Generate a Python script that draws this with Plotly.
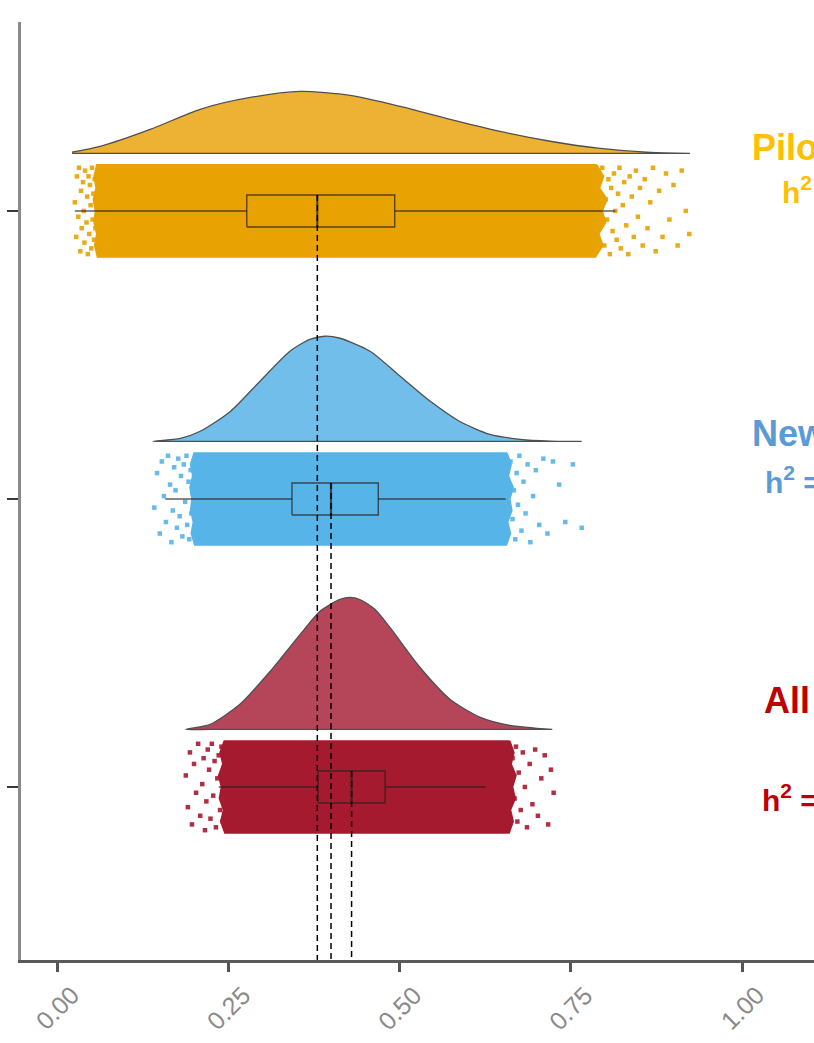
import plotly.graph_objects as go

# ---- groups (bottom to top on the category axis) ----
groups = ["All", "New", "Pilot"]
positions = [1, 2, 3]

# colours
point_colors = {"Pilot": "#E8A202", "New": "#56B4E9", "All": "#A61A30"}
cloud_colors = {"Pilot": "#EDB233", "New": "#72BEEA", "All": "#B5465A"}
label_colors = {"Pilot": "#FFC000", "New": "#5B9BD5", "All": "#C00000"}

# ---- box statistics (h2 estimates) ----
q1 = {"Pilot": 0.277, "New": 0.343, "All": 0.381}
median = {"Pilot": 0.38, "New": 0.40, "All": 0.43}
q3 = {"Pilot": 0.493, "New": 0.469, "All": 0.479}
lower_fence = {"Pilot": 0.026, "New": 0.158, "All": 0.236}
upper_fence = {"Pilot": 0.815, "New": 0.655, "All": 0.626}

# ---- density (cloud) profiles: x and curve height ----
pilot_dens_x = [0.022, 0.063, 0.136, 0.209, 0.282, 0.355, 0.428, 0.501,
                0.574, 0.647, 0.720, 0.793, 0.866, 0.924]
pilot_dens_h = [0.004, 0.024, 0.083, 0.153, 0.194, 0.215, 0.201, 0.163,
                0.118, 0.076, 0.042, 0.017, 0.003, 0.0]

new_dens_x = [0.140, 0.180, 0.209, 0.253, 0.296, 0.340, 0.369, 0.391, 0.413,
              0.457, 0.501, 0.545, 0.588, 0.632, 0.676, 0.720, 0.766]
new_dens_h = [0.0, 0.010, 0.035, 0.104, 0.208, 0.313, 0.354, 0.365, 0.358,
              0.313, 0.226, 0.139, 0.069, 0.024, 0.007, 0.001, 0.0]

all_dens_x = [0.188, 0.223, 0.267, 0.311, 0.355, 0.384, 0.413, 0.428, 0.442,
              0.464, 0.486, 0.530, 0.574, 0.618, 0.661, 0.723]
all_dens_h = [0.0, 0.017, 0.087, 0.201, 0.330, 0.410, 0.451, 0.458, 0.451,
              0.417, 0.354, 0.215, 0.104, 0.042, 0.014, 0.0]

density = {
    "Pilot": (pilot_dens_x, pilot_dens_h),
    "New": (new_dens_x, new_dens_h),
    "All": (all_dens_x, all_dens_h),
}

# ---- rain: dense core outline (left / right edge at each jitter level) ----
core_levels = [0.16, 0.12, 0.08, 0.04, 0.0, -0.04, -0.08, -0.12, -0.16]
core_left = {
    "Pilot": [0.058, 0.054, 0.057, 0.053, 0.056, 0.054, 0.058, 0.055, 0.059],
    "New": [0.200, 0.195, 0.198, 0.194, 0.197, 0.195, 0.199, 0.196, 0.201],
    "All": [0.244, 0.238, 0.242, 0.236, 0.240, 0.237, 0.243, 0.239, 0.245],
}
core_right = {
    "Pilot": [0.788, 0.798, 0.792, 0.803, 0.796, 0.801, 0.791, 0.797, 0.786],
    "New": [0.657, 0.663, 0.659, 0.666, 0.661, 0.664, 0.658, 0.662, 0.656],
    "All": [0.661, 0.667, 0.663, 0.670, 0.665, 0.669, 0.662, 0.666, 0.660],
}

# ---- rain: scattered points in the tails (value, jitter) ----
pilot_tail_x = [0.026, 0.028, 0.029, 0.031, 0.032, 0.034, 0.035, 0.036, 0.038,
                0.039, 0.040, 0.041, 0.043, 0.044, 0.045, 0.046, 0.047, 0.048,
                0.049, 0.050, 0.051, 0.052, 0.053, 0.054, 0.055, 0.056,
                0.796, 0.799, 0.801, 0.803, 0.805, 0.807, 0.809, 0.811, 0.813,
                0.815, 0.817, 0.819, 0.821, 0.823, 0.826, 0.828, 0.831, 0.834,
                0.836, 0.839, 0.842, 0.845, 0.848, 0.851, 0.855, 0.858, 0.862,
                0.866, 0.870, 0.874, 0.879, 0.884, 0.889, 0.894, 0.900, 0.906,
                0.912, 0.918, 0.923]
pilot_tail_j = [0.03, -0.09, 0.12, -0.02, 0.15, -0.14, 0.07, -0.06, 0.10,
                0.00, -0.11, 0.14, -0.04, 0.05, -0.15, 0.12, -0.08, 0.09,
                0.02, -0.13, 0.15, -0.03, 0.06, -0.10, 0.11, -0.06,
                0.15, -0.12, 0.04, -0.03, 0.11, -0.15, 0.08, -0.07, 0.13,
                0.00, -0.10, 0.06, 0.15, -0.13, 0.02, 0.10, -0.05, -0.15,
                0.12, 0.05, -0.09, 0.14, -0.02, 0.08, -0.12, 0.11, -0.06,
                0.03, 0.15, -0.14, 0.07, -0.09, 0.13, -0.03, 0.09, -0.12,
                0.14, 0.00, -0.08]

new_tail_x = [0.142, 0.146, 0.150, 0.153, 0.156, 0.159, 0.162, 0.165, 0.167,
              0.169, 0.171, 0.173, 0.175, 0.177, 0.179, 0.181, 0.183, 0.185,
              0.187, 0.189, 0.190, 0.192, 0.193, 0.195, 0.196, 0.198,
              0.662, 0.665, 0.667, 0.669, 0.671, 0.673, 0.675, 0.678, 0.681,
              0.684, 0.687, 0.691, 0.695, 0.699, 0.704, 0.710, 0.716, 0.724,
              0.733, 0.742, 0.753, 0.766]
new_tail_j = [-0.03, 0.09, -0.12, 0.13, 0.01, -0.08, 0.15, 0.05, -0.15,
              -0.04, 0.11, 0.03, -0.10, 0.14, -0.06, 0.08, -0.13, 0.12,
              -0.01, 0.15, -0.09, 0.06, -0.14, 0.10, -0.05, 0.02,
              0.13, -0.07, 0.03, -0.14, 0.09, -0.02, 0.15, -0.11, 0.06,
              -0.05, 0.12, -0.15, 0.01, 0.10, -0.09, 0.14, -0.12, 0.13,
              0.05, -0.08, 0.12, -0.10]

all_tail_x = [0.188, 0.191, 0.194, 0.197, 0.200, 0.203, 0.206, 0.209, 0.212,
              0.214, 0.216, 0.218, 0.220, 0.222, 0.224, 0.226, 0.228, 0.230,
              0.232, 0.234, 0.236, 0.238, 0.240, 0.242,
              0.665, 0.668, 0.670, 0.672, 0.674, 0.677, 0.680, 0.683, 0.686,
              0.690, 0.694, 0.698, 0.702, 0.707, 0.712, 0.717, 0.721, 0.725]
all_tail_j = [0.04, -0.07, 0.12, -0.13, 0.08, -0.02, 0.15, -0.10, 0.01,
              0.10, -0.15, -0.05, 0.13, 0.06, -0.11, 0.15, -0.03, 0.09,
              -0.14, 0.03, 0.11, -0.08, 0.14, -0.12,
              0.10, -0.04, 0.14, -0.12, 0.05, -0.08, 0.12, 0.00, -0.14,
              0.08, -0.06, 0.13, -0.10, 0.03, 0.11, -0.13, 0.06, -0.02]

tails = {
    "Pilot": (pilot_tail_x, pilot_tail_j),
    "New": (new_tail_x, new_tail_j),
    "All": (all_tail_x, all_tail_j),
}

# ---- x axis ticks ----
x_tick_vals = [0.0, 0.25, 0.5, 0.75, 1.0]
x_tick_text = ["0.00", "0.25", "0.50", "0.75", "1.00"]

# ---- right-hand labels: positions (y in data, x in paper units) ----
label_y_name = {"Pilot": 3.222, "New": 2.229, "All": 1.302}
label_y_h2 = {"Pilot": 3.073, "New": 2.066, "All": 0.962}
label_x_name = {"Pilot": 0.919, "New": 0.919, "All": 0.934}
label_x_h2 = {"Pilot": 0.957, "New": 0.936, "All": 0.932}

CLOUD_OFFSET = 0.20   # baseline of the half-violin above the category
BOX_WIDTH = 0.111
Y_MIN, Y_MAX = 0.3993, 3.656
X_MIN, X_MAX = -0.0526, 1.1051
BOX_LINE = "rgba(40,30,25,0.72)"

fig = go.Figure()

# half-violin clouds
for g, pos in zip(groups, positions):
    dx, dh = density[g]
    base = pos + CLOUD_OFFSET
    fig.add_trace(go.Scatter(
        x=dx + dx[::-1],
        y=[base + h for h in dh] + [base] * len(dx),
        fill="toself", fillcolor=cloud_colors[g],
        mode="lines", line=dict(color="#4f4f4f", width=1.3, shape="spline",
                                smoothing=0.7),
        hoverinfo="skip", showlegend=False,
    ))

# rain: dense core plus scattered tails
for g, pos in zip(groups, positions):
    lx = core_left[g]
    rx = core_right[g]
    ys = [pos + lv for lv in core_levels]
    fig.add_trace(go.Scatter(
        x=rx + lx[::-1] + [rx[0]], y=ys + ys[::-1] + [ys[0]],
        fill="toself", fillcolor=point_colors[g],
        mode="lines", line=dict(color=point_colors[g], width=1.5),
        hoverinfo="skip", showlegend=False,
    ))
    tx, tj = tails[g]
    fig.add_trace(go.Scatter(
        x=tx, y=[pos + j for j in tj], mode="markers",
        marker=dict(color=point_colors[g], size=4.5, opacity=0.9,
                    symbol="square"),
        hoverinfo="skip", showlegend=False,
    ))

# boxplots drawn as outlines on top of the rain
for g, pos in zip(groups, positions):
    lo, hi = pos - BOX_WIDTH / 2, pos + BOX_WIDTH / 2
    fig.add_trace(go.Scatter(
        x=[q1[g], q3[g], q3[g], q1[g], q1[g]], y=[lo, lo, hi, hi, lo],
        mode="lines", line=dict(color=BOX_LINE, width=1.4),
        hoverinfo="skip", showlegend=False,
    ))
    fig.add_trace(go.Scatter(
        x=[lower_fence[g], q1[g], None, q3[g], upper_fence[g]],
        y=[pos, pos, None, pos, pos],
        mode="lines", line=dict(color=BOX_LINE, width=1.6),
        hoverinfo="skip", showlegend=False,
    ))
    fig.add_trace(go.Scatter(
        x=[median[g], median[g]], y=[lo, hi],
        mode="lines", line=dict(color=BOX_LINE, width=2.2),
        hoverinfo="skip", showlegend=False,
    ))

# dashed median guides down to the x axis
for g, pos in zip(groups, positions):
    fig.add_trace(go.Scatter(
        x=[median[g], median[g]], y=[pos + BOX_WIDTH / 2, Y_MIN],
        mode="lines", line=dict(color="black", width=1.5, dash="6px,4px"),
        hoverinfo="skip", showlegend=False,
    ))

# group labels with heritability
for g in groups:
    fig.add_annotation(
        x=label_x_name[g], y=label_y_name[g], xref="paper", yref="y",
        text=f"<b>{g}</b>", showarrow=False, xanchor="left", yanchor="middle",
        font=dict(family="Liberation Sans, Arial", size=36, color=label_colors[g]),
    )
    fig.add_annotation(
        x=label_x_h2[g], y=label_y_h2[g], xref="paper", yref="y",
        text=f"<b>h<sup>2</sup> = {median[g]:.2f}</b>", showarrow=False,
        xanchor="left", yanchor="middle",
        font=dict(family="Liberation Sans, Arial", size=30, color=label_colors[g]),
    )

# slanted x tick labels centred under their ticks
for v, t in zip(x_tick_vals, x_tick_text):
    fig.add_annotation(
        x=v, y=-0.051, xref="x", yref="paper", text=t, showarrow=False,
        textangle=-45, xanchor="center", yanchor="middle",
        font=dict(family="Liberation Sans, Arial", size=25, color="#8a8a8a"),
    )

fig.update_layout(
    width=814, height=1043,
    margin=dict(l=21, r=0, t=22, b=83),
    paper_bgcolor="white", plot_bgcolor="white",
    showlegend=False,
    xaxis=dict(
        range=[X_MIN, X_MAX], showgrid=False, zeroline=False,
        showline=True, linecolor="#5a5a5a", linewidth=3,
        tickvals=x_tick_vals, showticklabels=False,
        ticks="outside", ticklen=9, tickwidth=2.5, tickcolor="#555555",
    ),
    yaxis=dict(
        range=[Y_MIN, Y_MAX], showgrid=False, zeroline=False,
        showline=True, linecolor="#8a8a8a", linewidth=3,
        tickvals=positions, showticklabels=False,
        ticks="outside", ticklen=11, tickwidth=2, tickcolor="#3a3a3a",
    ),
)

fig.write_html("out.html")
